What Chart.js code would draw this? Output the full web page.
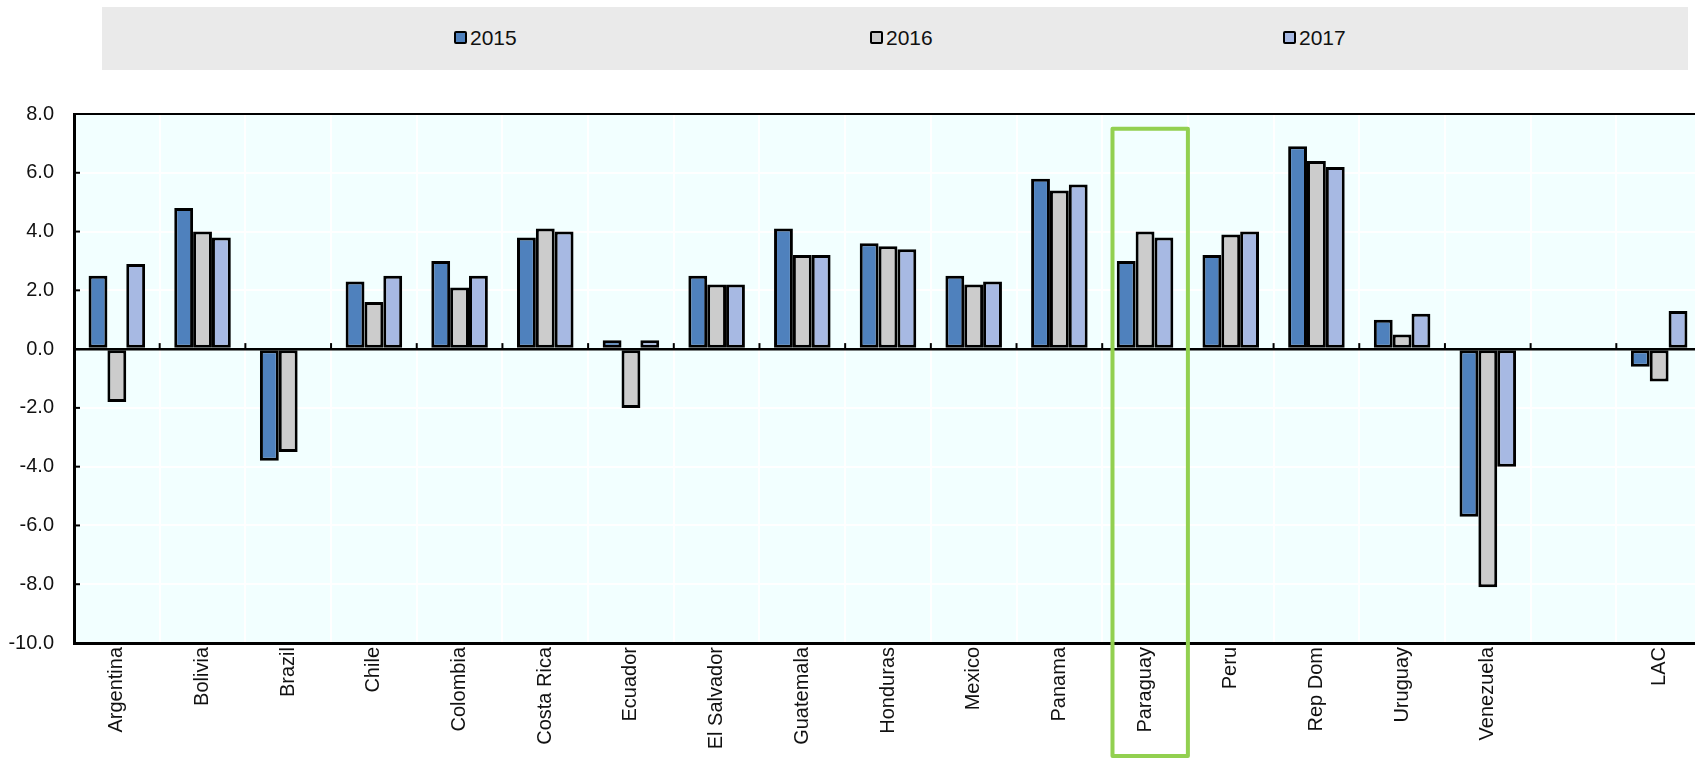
<!DOCTYPE html>
<html>
<head>
<meta charset="utf-8">
<script src="https://cdn.jsdelivr.net/npm/chart.js"></script>
<style>
  html, body { margin: 0; padding: 0; background: #fff; overflow: hidden; }
  #wrap { position: relative; width: 1695px; height: 759px; overflow: hidden; }
  #legend { position: absolute; left: 102px; top: 7px; width: 1586px; height: 63px; background: #eaeaea;
            font-family: "Liberation Sans Narrow", "Arial Narrow", "Liberation Sans", sans-serif; font-size: 21px; color: #111; }
  .item { position: absolute; top: 20px; line-height: 22px; }
  .sw { display: inline-block; width: 9px; height: 9px; border: 2px solid #000; border-radius: 2px; margin-right: 3px; vertical-align: 1px; }
  canvas { position: absolute; left: 0; top: 0; }
</style>
</head>
<body>
<div id="wrap">
  <div id="legend"></div>
  <canvas id="c" width="1702" height="759"></canvas>
</div>
<script>
// données
const categories = ['Argentina', 'Bolivia', 'Brazil', 'Chile', 'Colombia', 'Costa Rica', 'Ecuador', 'El Salvador',
  'Guatemala', 'Honduras', 'Mexico', 'Panama', 'Paraguay', 'Peru', 'Rep Dom', 'Uruguay', 'Venezuela', '', 'LAC'];
const years = ['2015', '2016', '2017'];
const values2015 = [2.5, 4.8, -3.8, 2.3, 3.0, 3.8, 0.3, 2.5, 4.1, 3.6, 2.5, 5.8, 3.0, 3.2, 6.9, 1.0, -5.7, null, -0.6];
const values2016 = [-1.8, 4.0, -3.5, 1.6, 2.1, 4.1, -2.0, 2.2, 3.2, 3.5, 2.2, 5.4, 4.0, 3.9, 6.4, 0.5, -8.1, null, -1.1];
const values2017 = [2.9, 3.8, null, 2.5, 2.5, 4.0, 0.3, 2.2, 3.2, 3.4, 2.3, 5.6, 3.8, 4.0, 6.2, 1.2, -4.0, null, 1.3];
const colors = ['#4f81bd', '#cccccc', '#a7b9e3'];
const highlight = 'Paraguay';

// légende HTML
const legendPos = [454, 870, 1283];
const legend = document.getElementById('legend');
years.forEach((y, i) => {
  const d = document.createElement('div');
  d.className = 'item';
  d.style.left = (legendPos[i] - 102) + 'px';
  d.innerHTML = '<span class="sw" style="background:' + colors[i] + '"></span>' + y;
  legend.appendChild(d);
});

const fontFam = '"Liberation Sans Narrow", "Arial Narrow", "Liberation Sans", sans-serif';

// fond, bordure du haut, petites graduations, cadre vert
const decor = {
  id: 'decor',
  beforeDraw(chart) {
    const a = chart.chartArea, ctx = chart.ctx;
    ctx.save();
    ctx.fillStyle = '#f2ffff';
    ctx.fillRect(a.left, a.top, a.right - a.left, a.bottom - a.top);
    ctx.restore();
  },
  afterDraw(chart) {
    const a = chart.chartArea, ctx = chart.ctx;
    const x = chart.scales.x, y = chart.scales.y;
    ctx.save();
    ctx.strokeStyle = '#000';
    ctx.lineWidth = 2;
    ctx.beginPath();
    ctx.moveTo(a.left, a.top);
    ctx.lineTo(a.right, a.top);
    ctx.stroke();
    // graduations sur l'axe y
    y.ticks.forEach(t => {
      const py = y.getPixelForValue(t.value);
      ctx.beginPath();
      ctx.moveTo(a.left, py);
      ctx.lineTo(a.left + 6, py);
      ctx.stroke();
    });
    // graduations sur la ligne zéro
    const y0 = y.getPixelForValue(0);
    for (let i = 1; i < categories.length; i++) {
      const px = (x.getPixelForValue(i - 1) + x.getPixelForValue(i)) / 2;
      ctx.beginPath();
      ctx.moveTo(px, y0);
      ctx.lineTo(px, y0 - 6);
      ctx.stroke();
    }
    // cadre vert
    const idx = categories.indexOf(highlight);
    const cx = x.getPixelForValue(idx);
    const cw = x.getPixelForValue(1) - x.getPixelForValue(0);
    const left = cx - 0.38 * cw, right = cx + 0.5 * cw;
    const top = y.getPixelForValue(7.5);
    ctx.strokeStyle = '#92d050';
    ctx.lineWidth = 4;
    ctx.lineJoin = 'round';
    ctx.strokeRect(left, top, right - left, chart.height - 3 - top);
    ctx.restore();
  }
};

new Chart(document.getElementById('c'), {
  type: 'bar',
  data: {
    labels: categories,
    datasets: [values2015, values2016, values2017].map((v, i) => ({
      label: years[i],
      data: v,
      backgroundColor: colors[i],
      borderColor: '#000',
      borderWidth: 3,
      borderSkipped: false,
      categoryPercentage: 0.66,
      barPercentage: 1.0
    }))
  },
  options: {
    responsive: false,
    animation: false,
    layout: { padding: { top: 114, right: 0, left: 0, bottom: 0 } },
    plugins: { legend: { display: false }, tooltip: { enabled: false } },
    scales: {
      x: {
        afterFit: s => { s.height = 116; },
        grid: { color: '#ffffff', lineWidth: 2, drawTicks: false },
        border: { color: '#000', width: 3 },
        ticks: { autoSkip: false, maxRotation: 90, minRotation: 90, padding: 4, color: '#111', font: { family: fontFam, size: 20 } }
      },
      y: {
        min: -10, max: 8,
        afterFit: s => { s.width = 74; },
        grid: {
          drawTicks: false,
          color: c => c.tick && c.tick.value === 0 ? '#000' : '#ffffff',
          lineWidth: c => c.tick && c.tick.value === 0 ? 2.5 : 2
        },
        border: { color: '#000', width: 3 },
        ticks: { stepSize: 2, padding: 20, color: '#111', font: { family: fontFam, size: 20 },
                 callback: v => v.toFixed(1) }
      }
    }
  },
  plugins: [decor]
});
</script>
</body>
</html>
